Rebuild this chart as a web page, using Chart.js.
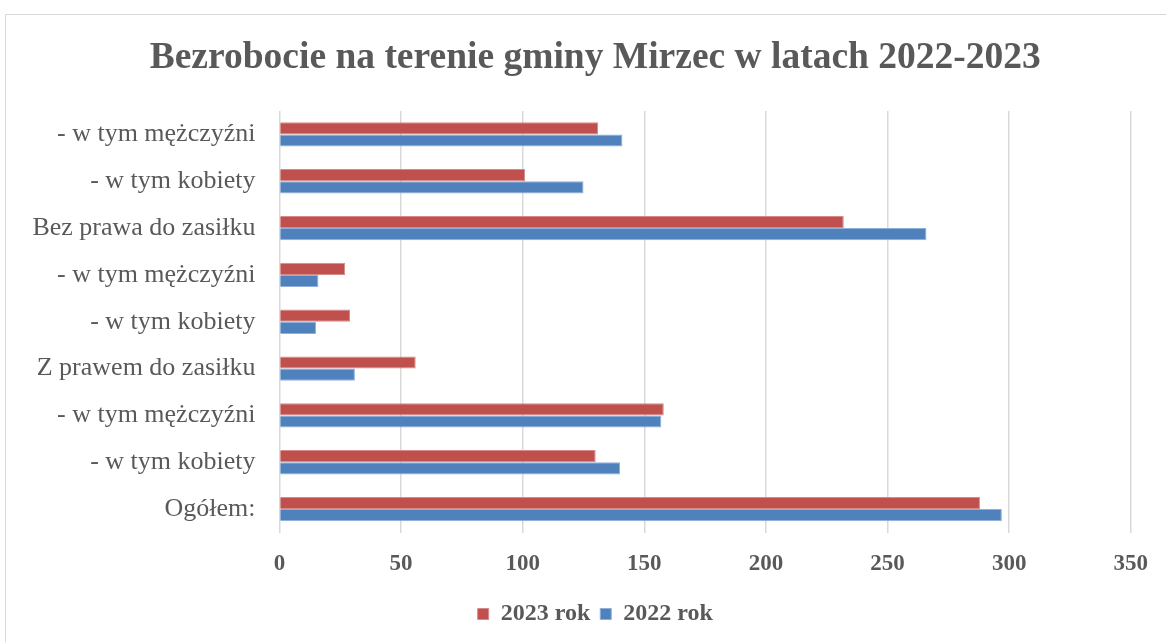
<!DOCTYPE html>
<html>
<head>
<meta charset="utf-8">
<script src="https://cdn.jsdelivr.net/npm/chart.js@4.4.1/dist/chart.umd.min.js"></script>
<style>
  html, body { margin: 0; padding: 0; background: #fff; }
  #wrap { position: relative; width: 1166px; height: 642px; overflow: hidden; }
  #frame { position: absolute; left: 5px; top: 14px; width: 1200px; height: 700px; border: 1px solid #d9d9d9; box-sizing: border-box; }
  canvas { position: absolute; left: 0; top: 0; }
</style>
</head>
<body>
<div id="wrap">
  <div id="frame"></div>
  <canvas id="chart" width="1166" height="642"></canvas>
</div>
<script>
// Data (top to bottom as shown)
const categories = [
  "- w tym mężczyźni",
  "- w tym kobiety",
  "Bez prawa do zasiłku",
  "- w tym mężczyźni",
  "- w tym kobiety",
  "Z prawem do zasiłku",
  "- w tym mężczyźni",
  "- w tym kobiety",
  "Ogółem:"
];
const values2023 = [131, 101, 232, 27, 29, 56, 158, 130, 288];
const values2022 = [141, 125, 266, 16, 15, 31, 157, 140, 297];
const seriesNames = ["2023 rok", "2022 rok"];
const xTicks = [0, 50, 100, 150, 200, 250, 300, 350];

const serif = "'Liberation Serif', 'Times New Roman', serif";
const textColor = "#595959";

const ctx = document.getElementById("chart").getContext("2d");

new Chart(ctx, {
  type: "bar",
  data: {
    labels: categories,
    datasets: [
      {
        label: seriesNames[0],
        data: values2023,
        backgroundColor: "#c0504d",
        borderColor: "#d88a88",
        borderWidth: 1
      },
      {
        label: seriesNames[1],
        data: values2022,
        backgroundColor: "#4f81bd",
        borderColor: "#8fb0d8",
        borderWidth: 1
      }
    ]
  },
  options: {
    indexAxis: "y",
    responsive: false,
    animation: false,
    // the original chart is wider than the crop, so title/legend centre sits right of middle
    layout: { padding: { left: 5, right: -19.5, top: 0, bottom: 6 } },
    datasets: {
      bar: { categoryPercentage: 0.52, barPercentage: 1.0 }
    },
    plugins: {
      title: {
        display: true,
        text: "Bezrobocie na terenie gminy Mirzec w latach 2022-2023",
        color: textColor,
        font: { family: serif, size: 37.5, weight: "bold" },
        padding: { top: 36, bottom: 30 }
      },
      legend: {
        position: "bottom",
        labels: {
          color: textColor,
          font: { family: serif, size: 24, weight: "bold" },
          boxWidth: 11,
          boxHeight: 11,
          padding: 10
        }
      },
      tooltip: { enabled: false }
    },
    scales: {
      x: {
        min: 0,
        max: 350,
        afterBuildTicks: s => { s.ticks = xTicks.map(v => ({ value: v })); },
        afterFit: s => { s.height = 59.5; },
        grid: { color: "#d9d9d9", lineWidth: 1.5, drawTicks: false },
        border: { display: false },
        ticks: {
          color: textColor,
          font: { family: serif, size: 23, weight: "bold" },
          padding: 18
        }
      },
      y: {
        afterFit: s => { s.width = 274.5; },
        grid: { display: false },
        border: { display: false },
        ticks: {
          color: textColor,
          font: { family: serif, size: 26 },
          padding: 16
        }
      },
      // empty spacer on the right so the plot ends at 350
      yRight: {
        type: "category",
        position: "right",
        afterFit: s => { s.width = 54; },
        grid: { display: false },
        border: { display: false },
        ticks: { display: false }
      }
    }
  }
});
</script>
</body>
</html>
